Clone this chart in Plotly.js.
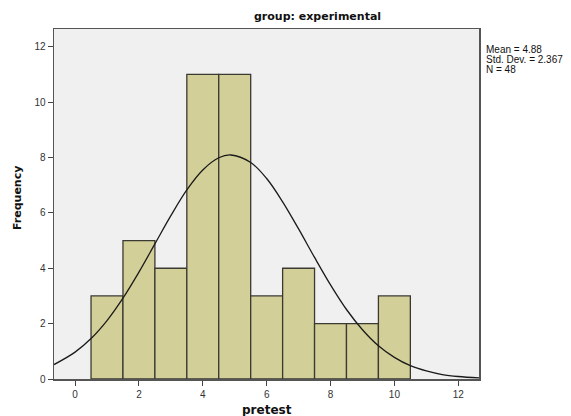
<!DOCTYPE html>
<html><head><meta charset="utf-8">
<script src="https://cdn.plot.ly/plotly-3.0.1.min.js"></script>
<style>html,body{margin:0;padding:0;background:#fff}</style>
</head><body>
<div id="chart" style="width:571px;height:416px"></div>
<script>
// Histogram bins (pretest) and frequencies
const binCenters = [1, 2, 3, 4, 5, 6, 7, 8, 9, 10];
const frequencies = [3, 5, 4, 11, 11, 3, 4, 2, 2, 3];
// Normal curve points
const curveX = [-0.66, 0, 0.5, 1, 1.5, 2, 2.5, 3, 3.5, 4, 4.5, 4.88, 5.5, 6, 6.5, 7, 7.5, 8, 8.5, 9, 9.5, 10, 10.5, 11, 11.5, 12, 12.65];
const curveY = [0.52, 0.97, 1.46, 2.11, 2.92, 3.86, 4.88, 5.90, 6.83, 7.55, 7.99, 8.09, 7.82, 7.24, 6.40, 5.42, 4.39, 3.40, 2.51, 1.78, 1.20, 0.78, 0.48, 0.29, 0.16, 0.09, 0.04];
const xTicks = [0, 2, 4, 6, 8, 10, 12];
const yTicks = [0, 2, 4, 6, 8, 10, 12];
const statsLines = ['Mean = 4.88', 'Std. Dev. = 2.367', 'N = 48'];

const fontFam = 'Liberation Sans, Arial, sans-serif';
const boldFam = 'DejaVu Sans, Verdana, sans-serif';
const data = [
  {type: 'bar', x: binCenters, y: frequencies, width: 1,
   marker: {color: '#d3cf98', line: {color: '#3a3a32', width: 1.3}},
   hoverinfo: 'x+y'},
  {type: 'scatter', mode: 'lines', x: curveX, y: curveY,
   line: {color: '#1a1a1a', width: 1.3, shape: 'spline'}, hoverinfo: 'skip'}
];
const annotations = [
  {text: '<b>group: experimental</b>', xref: 'paper', yref: 'paper', x: 0.62, y: 1, yshift: 4,
   xanchor: 'center', yanchor: 'bottom', showarrow: false, font: {family: boldFam, size: 11, color: '#111'}},
  {text: '<b>pretest</b>', xref: 'paper', yref: 'paper', x: 0.5, y: 0, yshift: -22,
   xanchor: 'center', yanchor: 'top', showarrow: false, font: {family: boldFam, size: 12, color: '#111'}},
  {text: '<b>Frequency</b>', xref: 'paper', yref: 'paper', x: 0, xshift: -37, y: 0.5, yshift: 6,
   textangle: -90, xanchor: 'center', yanchor: 'middle', showarrow: false, font: {family: boldFam, size: 11, color: '#111'}}
];
statsLines.forEach((t, i) => annotations.push({
  text: t, xref: 'paper', yref: 'paper', x: 1, xshift: 5, y: 1, yshift: -20 - 10 * i,
  xanchor: 'left', yanchor: 'middle', align: 'left', showarrow: false,
  font: {family: fontFam, size: 10, color: '#111'}
}));
const layout = {
  width: 571, height: 416,
  margin: {l: 54, r: 92, t: 29, b: 37},
  paper_bgcolor: '#ffffff', plot_bgcolor: '#f0f0f0',
  showlegend: false, bargap: 0,
  font: {family: fontFam, size: 10, color: '#333'},
  xaxis: {range: [-0.66, 12.65], tickvals: xTicks, ticks: 'outside', ticklen: 5, tickcolor: '#444',
    showgrid: false, zeroline: false, showline: true, linecolor: '#555', linewidth: 1.5, mirror: true,
    tickfont: {family: fontFam, size: 10, color: '#333'}},
  yaxis: {range: [0, 12.64], tickvals: yTicks, ticks: 'outside', ticklen: 5, tickcolor: '#444',
    showgrid: false, zeroline: false, showline: true, linecolor: '#555', linewidth: 1.5, mirror: true,
    tickfont: {family: fontFam, size: 10, color: '#333'}},
  annotations: annotations
};
Plotly.newPlot('chart', data, layout, {displayModeBar: false, staticPlot: true});
</script>
</body></html>
